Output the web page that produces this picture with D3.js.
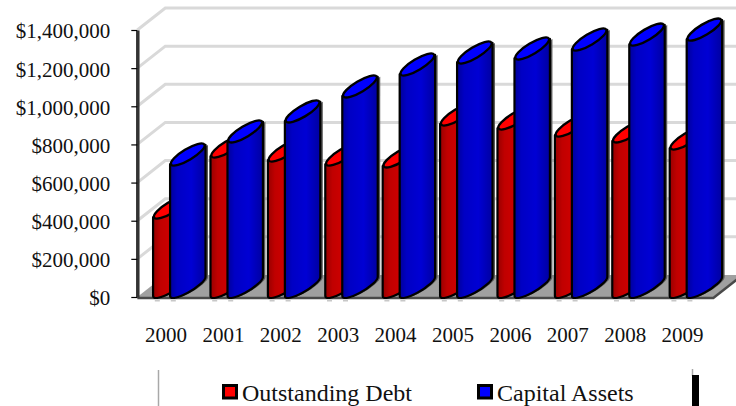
<!DOCTYPE html>
<html>
<head>
<meta charset="utf-8">
<script src="https://cdn.jsdelivr.net/npm/d3@7/dist/d3.min.js"></script>
<style>
html,body{margin:0;padding:0;background:#fff;}
svg{display:block;}
text{font-family:"Liberation Serif","Times New Roman",serif;fill:#111;}
</style>
</head>
<body>
<svg id="chart" width="736" height="406"></svg>
<script>
const years = ["2000","2001","2002","2003","2004","2005","2006","2007","2008","2009"];
const outstandingDebt = [414000,734000,713000,692000,682000,902000,881000,844000,813000,776000];
const capitalAssets = [692000,813000,918000,1049000,1164000,1227000,1248000,1295000,1321000,1347000];
const yTicks = [0,200000,400000,600000,800000,1000000,1200000,1400000];
const seriesNames = ["Outstanding Debt","Capital Assets"];

const W = 736, H = 406;
const svg = d3.select("#chart");
const defs = svg.append("defs");
const clip = defs.append("clipPath").attr("id","pageClip");
clip.append("rect").attr("width",W).attr("height",H);

function grad(id, stops){
  const g = defs.append("linearGradient").attr("id",id).attr("x1",0).attr("x2",1).attr("y1",0).attr("y2",0);
  stops.forEach(s=>g.append("stop").attr("offset",s[0]).attr("stop-color",s[1]));
}
grad("blueBody",[[0,"#00009a"],[0.2,"#0000c4"],[0.6,"#0000d4"],[1,"#0000a0"]]);
grad("redBody",[[0,"#980000"],[0.2,"#c00000"],[0.6,"#d20000"],[1,"#a80000"]]);
const soft = defs.append("filter").attr("id","soft").attr("x","-5%").attr("y","-5%").attr("width","110%").attr("height","110%");
soft.append("feGaussianBlur").attr("stdDeviation",0.4);

const x = d3.scaleBand().domain(years).range([137.3,711.3]);
const y = d3.scaleLinear().domain([0,1400000]).range([297,30]);
const depthX = 28, depthY = -22;
const cylW = 35, cylTilt = -21, minor = 5.5;

const plot = svg.append("g").attr("clip-path","url(#pageClip)");
const art = plot.append("g").attr("filter","url(#soft)");

// gridlines on the side and back walls
const grid = art.append("g").attr("fill","none").attr("stroke","#d9d9d9").attr("stroke-width",3);
grid.selectAll("path").data(yTicks.slice(1)).join("path")
  .attr("d",v=>`M${x.range()[0]},${y(v)}L${x.range()[0]+depthX},${y(v)+depthY}L${W+5},${y(v)+depthY}`);

// floor
const fx0 = x.range()[0], fx1 = x.range()[1]+2;
art.append("path")
  .attr("d",`M${fx0},${y(0)}L${fx1},${y(0)}L${fx1+depthX},${y(0)+depthY}L${fx0+depthX},${y(0)+depthY}Z`)
  .attr("fill","#a0a0a0");
art.append("path")
  .attr("d",`M${fx0},${y(0)+1}L${fx1},${y(0)+1}L${fx1+depthX},${y(0)+1+depthY}`)
  .attr("fill","none").attr("stroke","#4a4a4a").attr("stroke-width",2.5);

// tilted ellipse geometry for the oblique cylinders
const theta = Math.atan2(cylTilt,cylW);
const major = Math.hypot(cylW,cylTilt)/2;
const tTan = Math.atan2(-minor*Math.sin(theta),major*Math.cos(theta));
const tanX = major*Math.cos(tTan)*Math.cos(theta)-minor*Math.sin(tTan)*Math.sin(theta);
const tanY = major*Math.cos(tTan)*Math.sin(theta)+minor*Math.sin(tTan)*Math.cos(theta);
const deg = theta*180/Math.PI;

function bodyPath(left,v){
  const cx = left+cylW/2;
  const cyT = y(v)+cylTilt/2, cyB = y(0)+cylTilt/2;
  return `M${cx-tanX},${cyT-tanY}L${cx-tanX},${cyB-tanY}`+
    `A${major},${minor} ${deg} 0 0 ${cx+tanX},${cyB+tanY}`+
    `L${cx+tanX},${cyT+tanY}Z`;
}
const series = [
  {name:seriesNames[0],values:outstandingDebt,offset:16,body:"url(#redBody)",top:"#ff0000"},
  {name:seriesNames[1],values:capitalAssets,offset:33,body:"url(#blueBody)",top:"#0000ff"}
];
const rows = years.flatMap((yr,i)=>series.map(s=>({yr,v:s.values[i],s})));
const bars = art.append("g").selectAll("g").data(rows).join("g");
bars.append("path").attr("d",d=>bodyPath(x(d.yr)+d.s.offset+2.5,d.v)).attr("fill","#5c5c5c");
bars.append("path").attr("d",d=>bodyPath(x(d.yr)+d.s.offset,d.v))
  .attr("fill",d=>d.s.body).attr("stroke","#000").attr("stroke-width",2.2).attr("stroke-linejoin","round");
bars.append("ellipse")
  .attr("transform",d=>`translate(${x(d.yr)+d.s.offset+cylW/2},${y(d.v)+cylTilt/2}) rotate(${deg})`)
  .attr("rx",major-1).attr("ry",minor)
  .attr("fill",d=>d.s.top).attr("stroke","#000").attr("stroke-width",2.4);

// small marks under the floor edge
art.append("g").selectAll("rect").data(years.flatMap(yr=>[20,36].map(o=>x(yr)+o))).join("rect")
  .attr("x",d=>d-2.5).attr("y",y(0)+3).attr("width",5).attr("height",1.5).attr("fill","#c8c8c8");

// value axis
const yAxis = d3.axisLeft(y).tickValues(yTicks).tickFormat(d3.format("$,")).tickSizeInner(6).tickSizeOuter(0).tickPadding(21);
const yG = svg.append("g").attr("transform",`translate(${x.range()[0]},0)`).call(yAxis);
yG.select(".domain").attr("stroke","#333").attr("stroke-width",3.5);
yG.selectAll(".tick line").attr("stroke","#000").attr("stroke-width",1.2);
yG.selectAll("text").attr("font-size",21).attr("dy","0.38em").attr("fill","#111");
yG.attr("font-family",null).attr("font-size",null);

// category axis
const xAxis = d3.axisBottom(x).tickSize(0).tickPadding(30.5);
const xG = svg.append("g").attr("transform",`translate(0,${y(0)})`).call(xAxis);
xG.select(".domain").remove();
xG.selectAll("text").attr("font-size",21).attr("fill","#111");
xG.attr("font-family",null).attr("font-size",null);

// legend
const legendX = d3.scaleOrdinal().domain(seriesNames).range([222,477]);
const legendFill = d3.scaleOrdinal().domain(seriesNames).range(["#ff0000","#0000ff"]);
const leg = svg.append("g").selectAll("g").data(seriesNames).join("g")
  .attr("transform",d=>`translate(${legendX(d)},0)`);
leg.append("rect").attr("x",1.5).attr("y",385.5).attr("width",13).attr("height",12.5)
  .attr("fill",d=>legendFill(d)).attr("stroke","#000").attr("stroke-width",3);
leg.append("text").attr("x",20).attr("y",401).attr("font-size",24).text(d=>d);

// frame fragments at the bottom of the picture
svg.append("line").attr("x1",158.5).attr("x2",158.5).attr("y1",370).attr("y2",H).attr("stroke","#a8a8a8").attr("stroke-width",1.5);
svg.append("line").attr("x1",692.5).attr("x2",692.5).attr("y1",369).attr("y2",376).attr("stroke","#a8a8a8").attr("stroke-width",1.5);
svg.append("rect").attr("x",692).attr("y",375).attr("width",7).attr("height",H-375).attr("fill","#000");
</script>
</body>
</html>
